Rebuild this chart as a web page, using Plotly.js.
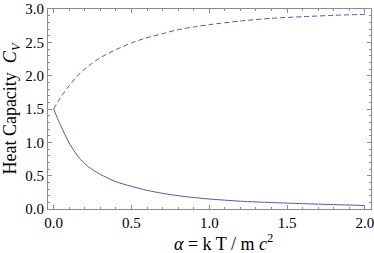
<!DOCTYPE html>
<html>
<head>
<meta charset="utf-8">
<script src="https://cdn.plot.ly/plotly-3.0.1.min.js"></script>
<style>html,body{margin:0;padding:0;background:#fff;}#chart{width:374px;height:253px;}</style>
</head>
<body>
<div id="chart"></div>
<script>
// alpha = kT / m c^2
const alpha = [0, 0.025, 0.05, 0.1, 0.15, 0.2, 0.25, 0.3, 0.4, 0.5, 0.6, 0.7, 0.8, 0.9, 1.0, 1.2, 1.4, 1.6, 1.8, 2.0];
// dashed curve (rising)
const cvDashed = [1.5, 1.6, 1.69, 1.85, 1.99, 2.1, 2.19, 2.27, 2.39, 2.49, 2.57, 2.63, 2.69, 2.73, 2.765, 2.82, 2.86, 2.885, 2.905, 2.92];
// solid curve (falling)
const cvSolid = [1.5, 1.36, 1.23, 0.99, 0.81, 0.68, 0.59, 0.52, 0.41, 0.34, 0.28, 0.235, 0.2, 0.172, 0.15, 0.117, 0.097, 0.08, 0.066, 0.053];
const xTicks = [0, 0.5, 1, 1.5, 2];
const xTickLabels = ["0.0", "0.5", "1.0", "1.5", "2.0"];
const yTicks = [0, 0.5, 1, 1.5, 2, 2.5, 3];
const yTickLabels = ["0.0", "0.5", "1.0", "1.5", "2.0", "2.5", "3.0"];
const xTitle = '<i>α</i> = k T / m <i>c</i><sup>2</sup>';
const yTitle = 'Heat Capacity\u00a0\u00a0<i>C</i><sub><i>V</i></sub>';

const lineColor = 'rgb(85,85,175)';
const frameColor = 'rgb(140,140,140)';
const font = 'Liberation Serif';

const traces = [
  {x: alpha, y: cvDashed, mode: 'lines', line: {color: lineColor, width: 1, dash: '5px,3px', shape: 'spline', smoothing: 0.8}, hoverinfo: 'skip'},
  {x: alpha, y: cvSolid, mode: 'lines', line: {color: lineColor, width: 1, shape: 'spline', smoothing: 0.8}, hoverinfo: 'skip'}
];

const axisCommon = {
  showgrid: false, zeroline: false, showline: true, linecolor: frameColor, linewidth: 1,
  mirror: 'ticks', ticks: 'inside', ticklen: 4, tickcolor: frameColor, tickwidth: 1,
  tickfont: {family: font, size: 15, color: '#000'},
  tickmode: 'array', ticklabeloverflow: 'allow'
};

const layout = {
  width: 374, height: 253,
  margin: {l: 48, r: 3, t: 9, b: 44},
  paper_bgcolor: '#fff', plot_bgcolor: '#fff',
  showlegend: false,
  font: {family: font, color: '#000'},
  xaxis: Object.assign({}, axisCommon, {
    range: [-0.036, 2.039], tickvals: xTicks, ticktext: xTickLabels,
    minor: {dtick: 0.1, tick0: 0, ticklen: 2, tickcolor: frameColor, ticks: 'inside'}
  }),
  yaxis: Object.assign({}, axisCommon, {
    range: [0, 3], tickvals: yTicks, ticktext: yTickLabels,
    minor: {dtick: 0.1, tick0: 0, ticklen: 2, tickcolor: frameColor, ticks: 'inside'},
    title: {text: yTitle, font: {family: font, size: 18, color: '#000'}, standoff: 4}
  }),
  annotations: [{
    text: xTitle, xref: 'paper', yref: 'paper', x: 0.542, y: -0.232,
    xanchor: 'center', yanchor: 'bottom', showarrow: false, borderpad: 0,
    font: {family: font, size: 18, color: '#000'}
  }]
};

Plotly.newPlot('chart', traces, layout, {displayModeBar: false, staticPlot: true});
</script>
</body>
</html>
